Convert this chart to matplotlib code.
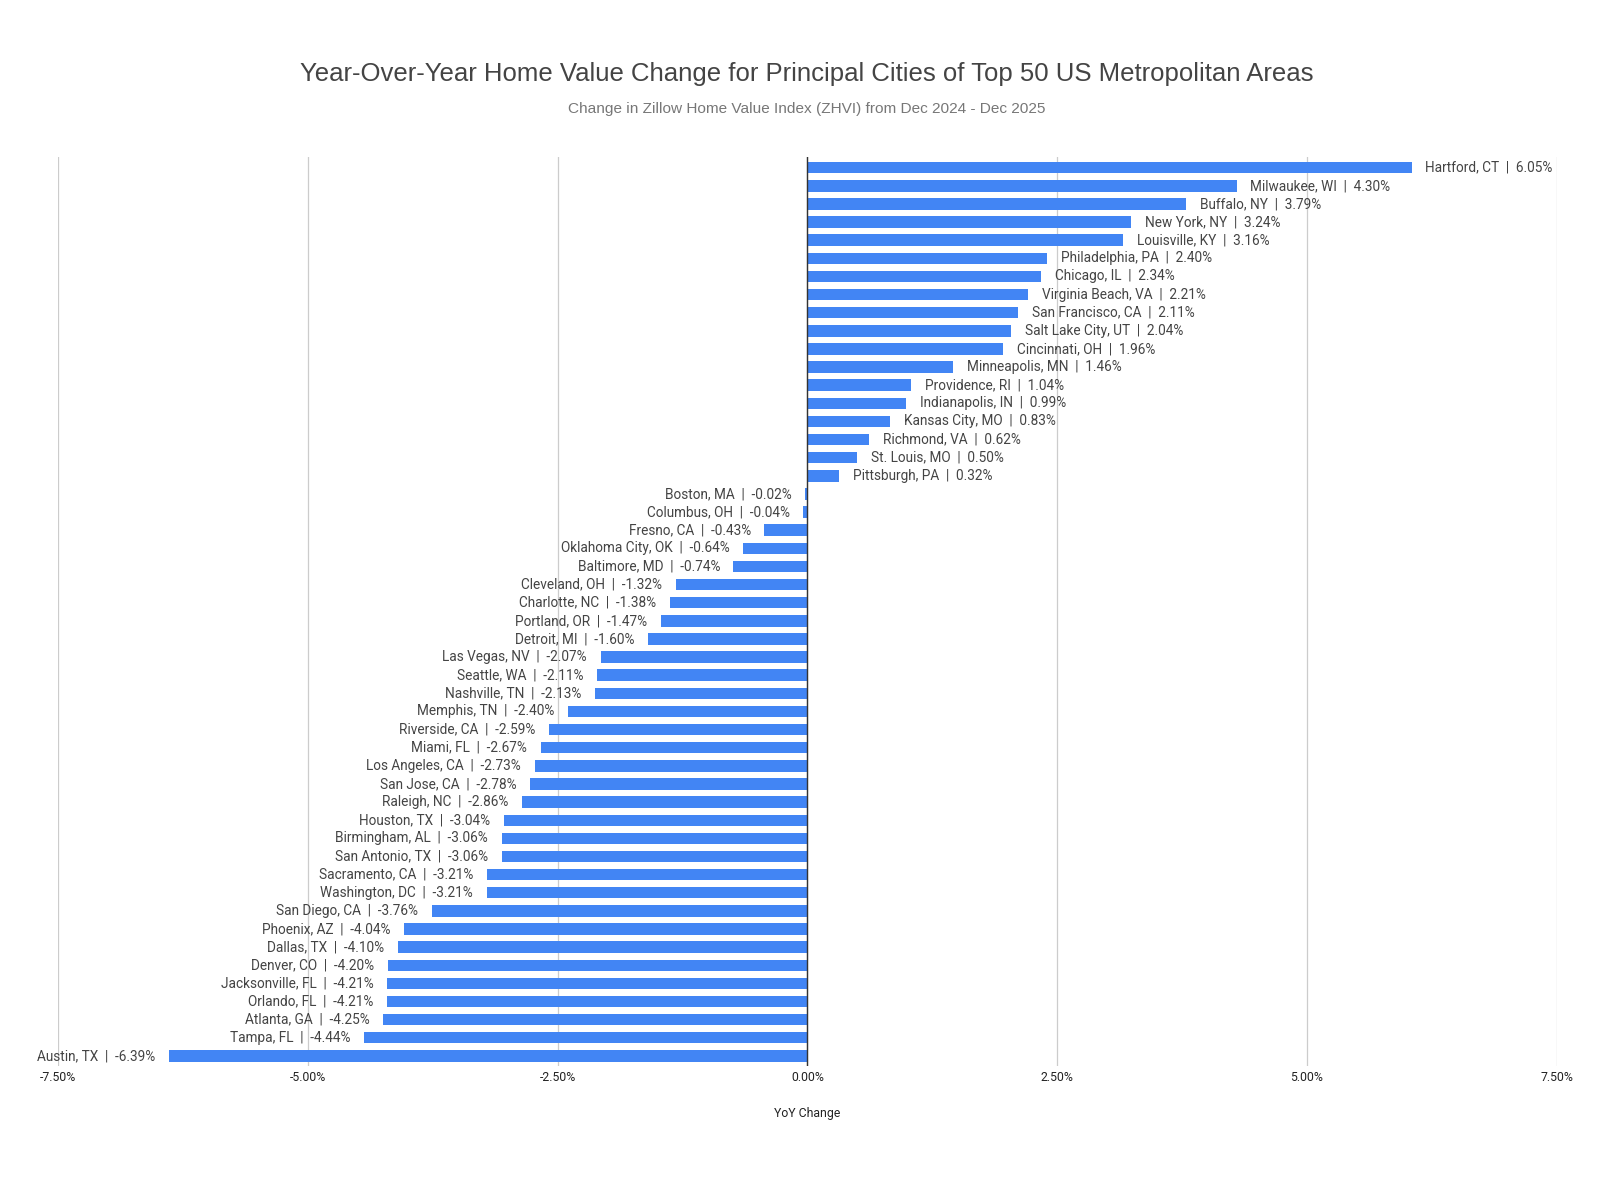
import numpy as np
import matplotlib.pyplot as plt

# Datos
cities = [
    'Hartford, CT', 'Milwaukee, WI', 'Buffalo, NY', 'New York, NY', 'Louisville, KY',
    'Philadelphia, PA', 'Chicago, IL', 'Virginia Beach, VA', 'San Francisco, CA',
    'Salt Lake City, UT', 'Cincinnati, OH', 'Minneapolis, MN', 'Providence, RI',
    'Indianapolis, IN', 'Kansas City, MO', 'Richmond, VA', 'St. Louis, MO',
    'Pittsburgh, PA', 'Boston, MA', 'Columbus, OH', 'Fresno, CA', 'Oklahoma City, OK',
    'Baltimore, MD', 'Cleveland, OH', 'Charlotte, NC', 'Portland, OR', 'Detroit, MI',
    'Las Vegas, NV', 'Seattle, WA', 'Nashville, TN', 'Memphis, TN', 'Riverside, CA',
    'Miami, FL', 'Los Angeles, CA', 'San Jose, CA', 'Raleigh, NC', 'Houston, TX',
    'Birmingham, AL', 'San Antonio, TX', 'Sacramento, CA', 'Washington, DC',
    'San Diego, CA', 'Phoenix, AZ', 'Dallas, TX', 'Denver, CO', 'Jacksonville, FL',
    'Orlando, FL', 'Atlanta, GA', 'Tampa, FL', 'Austin, TX',
]
yoy = [
    6.05, 4.30, 3.79, 3.24, 3.16, 2.40, 2.34, 2.21, 2.11, 2.04, 1.96, 1.46, 1.04,
    0.99, 0.83, 0.62, 0.50, 0.32, -0.02, -0.04, -0.43, -0.64, -0.74, -1.32, -1.38,
    -1.47, -1.60, -2.07, -2.11, -2.13, -2.40, -2.59, -2.67, -2.73, -2.78, -2.86,
    -3.04, -3.06, -3.06, -3.21, -3.21, -3.76, -4.04, -4.10, -4.20, -4.21, -4.21,
    -4.25, -4.44, -6.39,
]
xticks = [-7.5, -5.0, -2.5, 0.0, 2.5, 5.0, 7.5]

fig = plt.figure(figsize=(16.14, 11.79), dpi=100)
ax = fig.add_axes([0.036, 0.096, 0.9285, 0.771])

y = np.arange(len(cities))
ax.barh(y, yoy, height=0.63, color='#4285F4', zorder=3)

# Etiquetas de las barras
for yi, name, v in zip(y, cities, yoy):
    label = '{}  |  {:.2f}%'.format(name, v)
    if v >= 0:
        ax.annotate(label, (v, yi), xytext=(9.7, 0), textcoords='offset points',
                    ha='left', va='center', fontsize=9.8, color='#444444',
                    family='Roboto')
    else:
        ax.annotate(label, (v, yi), xytext=(-9.7, 0), textcoords='offset points',
                    ha='right', va='center', fontsize=9.8, color='#444444',
                    family='Roboto')

ax.set_xlim(-7.5, 7.5)
ax.set_ylim(len(cities) - 0.45, -0.6)
ax.set_xticks(xticks)
ax.set_xticklabels(['{:.2f}%'.format(t) for t in xticks], fontsize=8.8,
                   color='#222222', family='Roboto')
ax.tick_params(axis='x', length=0, pad=4)
ax.set_yticks([])
ax.grid(axis='x', color='#cccccc', linewidth=0.9, zorder=0)
ax.axvline(0, color='#333333', linewidth=1.0, zorder=4)
for s in ax.spines.values():
    s.set_visible(False)

ax.set_xlabel('YoY Change', fontsize=8.8, color='#222222', family='Roboto',
              labelpad=16)

fig.text(0.5, 1 - 74.5 / 1179,
         'Year-Over-Year Home Value Change for Principal Cities of Top 50 US Metropolitan Areas',
         ha='center', va='center', fontsize=18.5, color='#444444',
         family='Liberation Sans')
fig.text(0.5, 1 - 109 / 1179,
         'Change in Zillow Home Value Index (ZHVI) from Dec 2024 - Dec 2025',
         ha='center', va='center', fontsize=11.1, color='#777777',
         family='Liberation Sans')

fig.savefig('out.png', dpi=100, facecolor='white')
